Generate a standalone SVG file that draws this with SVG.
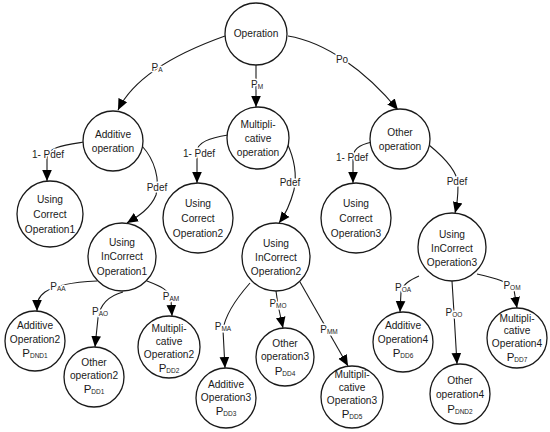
<svg xmlns="http://www.w3.org/2000/svg" width="550" height="432" viewBox="0 0 550 432">
<defs>
<marker id="ah" markerUnits="userSpaceOnUse" markerWidth="11" markerHeight="11" viewBox="0 0 10 10" refX="10" refY="5" orient="auto">
<path d="M0,0.6 L10,5 L0,9.4 Z" fill="#000"/>
</marker>
</defs>
<style>
circle{fill:#fff;stroke:#1a1a1a;stroke-width:1.3}
.n text{font-family:"Liberation Sans",Arial,sans-serif;font-size:10.2px;fill:#1a1a1a;text-anchor:middle;dominant-baseline:central}
.e path{fill:none;stroke:#1a1a1a;stroke-width:1.1;marker-end:url(#ah)}
.e text{font-family:"Liberation Sans",Arial,sans-serif;font-size:10px;fill:#222;text-anchor:middle;dominant-baseline:central;stroke:#fff;stroke-width:3;paint-order:stroke;stroke-linejoin:round}
.s{font-size:6.5px}
.p{font-size:11.5px}
</style>
<rect width="550" height="432" fill="#fff"/>
<g id="connectors" class="e">
<path d="M225,36 C180,52 135,75 118,110"/>
<path d="M256,65 L256,107"/>
<path d="M288,36 C325,42 365,70 398,110"/>
<path d="M84,142 C65,145 47,147 47,158 L47,181"/>
<path d="M142,146 C155,160 160,180 156,195 C150,210 135,218 127,223"/>
<path d="M228,135 C210,138 197,142 197,152 L197,183"/>
<path d="M287,143 C295,160 297,175 294,190 C290,205 285,215 279,223"/>
<path d="M372,142 C358,145 353,150 353,158 L353,183"/>
<path d="M429,145 C445,158 458,172 458,185 C458,198 457,205 455,213"/>
<path d="M97,281 C75,282 55,285 45,292 C38,297 37,302 37,311"/>
<path d="M123,292 C108,296 100,305 98,318 L95,347"/>
<path d="M147,281 C160,286 170,290 171,300 L172,316"/>
<path d="M250,283 C235,300 225,315 223,330 L225,368"/>
<path d="M276,291 L278,305 L283,328"/>
<path d="M300,282 L348,366"/>
<path d="M419,276 C410,280 403,284 401,292 L400,312"/>
<path d="M452,281 L454,313 L457,364"/>
<path d="M477,274 C495,278 510,282 514,290 L517,308"/>
<text x="157" y="67">P<tspan class="s" dy="2">A</tspan></text>
<text x="257" y="84">P<tspan class="s" dy="2">M</tspan></text>
<text x="342" y="59">Po</text>
<text x="48" y="154">1- Pdef</text>
<text x="157" y="187">Pdef</text>
<text x="199" y="153">1- Pdef</text>
<text x="290" y="182">Pdef</text>
<text x="352" y="157">1- Pdef</text>
<text x="457" y="181">Pdef</text>
<text x="58" y="286">P<tspan class="s" dy="2">AA</tspan></text>
<text x="100" y="311">P<tspan class="s" dy="2">AO</tspan></text>
<text x="171" y="296">P<tspan class="s" dy="2">AM</tspan></text>
<text x="223" y="326">P<tspan class="s" dy="2">MA</tspan></text>
<text x="278" y="303">P<tspan class="s" dy="2">MO</tspan></text>
<text x="329" y="329">P<tspan class="s" dy="2">MM</tspan></text>
<text x="403" y="287">P<tspan class="s" dy="2">OA</tspan></text>
<text x="454" y="312">P<tspan class="s" dy="2">OO</tspan></text>
<text x="512" y="285">P<tspan class="s" dy="2">OM</tspan></text>
</g>
<g id="op" class="n"><circle cx="256" cy="34" r="31"/><text x="256" y="33">Operation</text></g>
<g id="add" class="n"><circle cx="113" cy="141" r="30"/><text x="113" y="134">Additive</text><text x="113" y="148">operation</text></g>
<g id="mul" class="n"><circle cx="258" cy="138" r="31"/><text x="258" y="124">Multipli-</text><text x="258" y="138">cative</text><text x="258" y="152">operation</text></g>
<g id="oth" class="n"><circle cx="400" cy="139" r="30"/><text x="400" y="132">Other</text><text x="400" y="146">operation</text></g>
<g id="uc1" class="n"><circle cx="50" cy="214" r="33"/><text x="50" y="199">Using</text><text x="50" y="214">Correct</text><text x="50" y="229">Operation1</text></g>
<g id="uc2" class="n"><circle cx="198" cy="218" r="35"/><text x="198" y="203">Using</text><text x="198" y="218">Correct</text><text x="198" y="233">Operation2</text></g>
<g id="uc3" class="n"><circle cx="356" cy="218" r="35"/><text x="356" y="203">Using</text><text x="356" y="218">Correct</text><text x="356" y="233">Operation3</text></g>
<g id="uic1" class="n"><circle cx="122" cy="257" r="34"/><text x="122" y="242">Using</text><text x="122" y="256">InCorrect</text><text x="122" y="271">Operation1</text></g>
<g id="uic2" class="n"><circle cx="276" cy="257" r="34"/><text x="276" y="243">Using</text><text x="276" y="257">InCorrect</text><text x="276" y="271">Operation2</text></g>
<g id="uic3" class="n"><circle cx="452" cy="247" r="34"/><text x="452" y="234">Using</text><text x="452" y="248">InCorrect</text><text x="452" y="262">Operation3</text></g>
<g id="add2" class="n"><circle cx="35" cy="341" r="30"/><text x="35" y="325">Additive</text><text x="35" y="339">Operation2</text><text x="35" y="353"><tspan class="p">P</tspan><tspan class="s" dy="2">DND1</tspan></text></g>
<g id="oth2" class="n"><circle cx="94" cy="377" r="30"/><text x="94" y="362">Other</text><text x="94" y="375">operation2</text><text x="94" y="389"><tspan class="p">P</tspan><tspan class="s" dy="2">DD1</tspan></text></g>
<g id="mul2" class="n"><circle cx="169" cy="347" r="31"/><text x="169" y="328">Multipli-</text><text x="169" y="341">cative</text><text x="169" y="354">Operation2</text><text x="169" y="368"><tspan class="p">P</tspan><tspan class="s" dy="2">DD2</tspan></text></g>
<g id="add3" class="n"><circle cx="226" cy="398" r="30"/><text x="226" y="384">Additive</text><text x="226" y="397">Operation3</text><text x="226" y="411"><tspan class="p">P</tspan><tspan class="s" dy="2">DD3</tspan></text></g>
<g id="oth3" class="n"><circle cx="285" cy="357" r="29"/><text x="285" y="343">Other</text><text x="285" y="356">operation3</text><text x="285" y="371"><tspan class="p">P</tspan><tspan class="s" dy="2">DD4</tspan></text></g>
<g id="mul3" class="n"><circle cx="352" cy="397" r="31"/><text x="352" y="374">Multipli-</text><text x="352" y="387">cative</text><text x="352" y="400">Operation3</text><text x="352" y="414"><tspan class="p">P</tspan><tspan class="s" dy="2">DD5</tspan></text></g>
<g id="add4" class="n"><circle cx="403" cy="342" r="30"/><text x="403" y="325">Additive</text><text x="403" y="339">Operation4</text><text x="403" y="353"><tspan class="p">P</tspan><tspan class="s" dy="2">DD6</tspan></text></g>
<g id="oth4" class="n"><circle cx="460" cy="394" r="30"/><text x="460" y="380">Other</text><text x="460" y="394">operation4</text><text x="460" y="409"><tspan class="p">P</tspan><tspan class="s" dy="2">DND2</tspan></text></g>
<g id="mul4" class="n"><circle cx="517" cy="338" r="30"/><text x="517" y="318">Multipli-</text><text x="517" y="330">cative</text><text x="517" y="343">Operation4</text><text x="517" y="357"><tspan class="p">P</tspan><tspan class="s" dy="2">DD7</tspan></text></g>
</svg>
